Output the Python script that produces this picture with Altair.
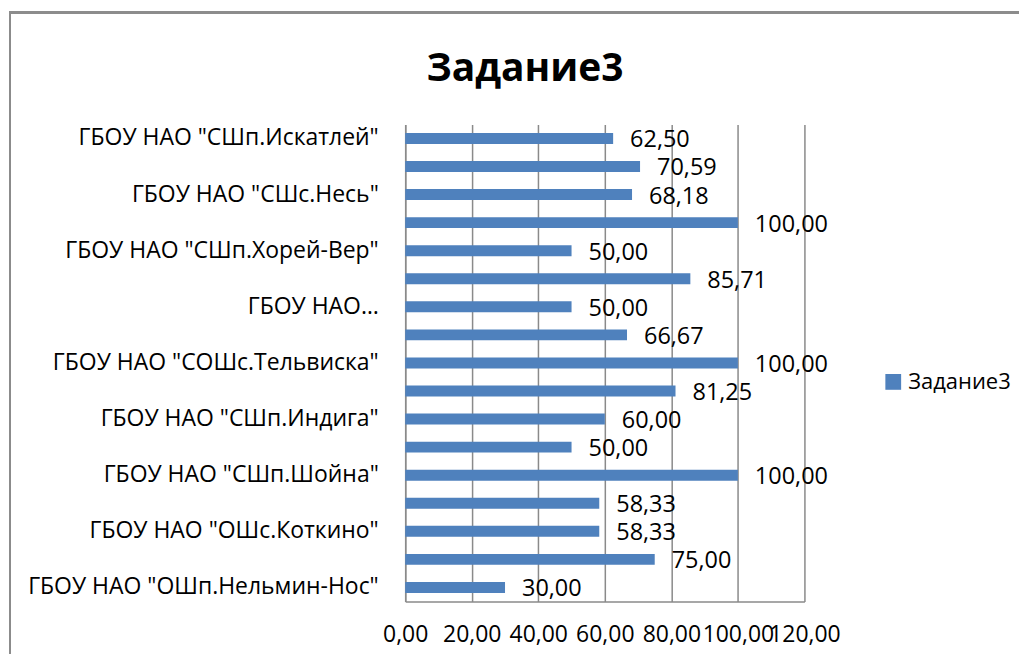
import altair as alt
import pandas as pd

# Data (top to bottom as shown)
labels = [
    'ГБОУ НАО "СШп.Искатлей"', '',
    'ГБОУ НАО "СШс.Несь"', '',
    'ГБОУ НАО "СШп.Хорей-Вер"', '',
    'ГБОУ НАО…', '',
    'ГБОУ НАО "СОШс.Тельвиска"', '',
    'ГБОУ НАО "СШп.Индига"', '',
    'ГБОУ НАО "СШп.Шойна"', '',
    'ГБОУ НАО "ОШс.Коткино"', '',
    'ГБОУ НАО "ОШп.Нельмин-Нос"',
]
values = [62.50, 70.59, 68.18, 100.00, 50.00, 85.71, 50.00, 66.67, 100.00,
          81.25, 60.00, 50.00, 100.00, 58.33, 58.33, 75.00, 30.00]
series = "Задание3"
x_ticks = [0, 20, 40, 60, 80, 100, 120]

FONT = "Open Sans"
BAR = "#4F81BD"
GRID = "#8a8a8a"

df = pd.DataFrame({"row": list(range(len(values))), "value": values, "series": series})
label_js = "[" + ",".join('"' + l.replace('"', '\\"') + '"' for l in labels) + "]"

y_enc = alt.Y("row:O", sort=list(range(len(values))),
              scale=alt.Scale(paddingInner=0.61, paddingOuter=0.305),
              axis=alt.Axis(title=None, ticks=False, labelExpr=f"{label_js}[datum.value]",
                            labelFont=FONT, labelFontSize=23, labelColor="#000",
                            labelPadding=27, domainColor=GRID, domainWidth=1.5,
                            labelLimit=400))
x_enc = alt.X("value:Q", scale=alt.Scale(domain=[0, 120], nice=False),
              axis=alt.Axis(title=None, values=x_ticks, ticks=False,
                            labelExpr="replace(format(datum.value,'.2f'),'.',',')",
                            labelFont=FONT, labelFontSize=23, labelColor="#000",
                            labelPadding=22, labelOverlap=False, labelFlush=False,
                            grid=True, gridColor=GRID, gridWidth=1.5,
                            domainColor=GRID, domainWidth=1.5))

bars = alt.Chart(df).mark_bar(color=BAR).encode(
    x=x_enc, y=y_enc,
    color=alt.Color("series:N", scale=alt.Scale(domain=[series], range=[BAR]),
                    legend=alt.Legend(title=None, orient="none", legendX=478, legendY=247,
                                      symbolType="square", symbolSize=250,
                                      symbolStrokeWidth=0,
                                      labelFont=FONT, labelFontSize=22, labelColor="#000",
                                      labelOffset=4)),
)

text = alt.Chart(df).transform_calculate(
    lbl="replace(format(datum.value,'.2f'),'.',',')"
).mark_text(align="left", baseline="middle", dx=17, dy=2, font=FONT, fontSize=23.5,
            color="#000").encode(x="value:Q", y=alt.Y("row:O", sort=list(range(len(values)))),
                                 text="lbl:N")

border_top = alt.Chart(df).mark_rule(color="#8c8c8c", strokeWidth=2, clip=False).encode(
    x=alt.value(-397), x2=alt.value(615), y=alt.value(-112))
border_left = alt.Chart(df).mark_rule(color="#8c8c8c", strokeWidth=2, clip=False).encode(
    x=alt.value(-396), y=alt.value(-112), y2=alt.value(530))

chart = alt.layer(border_top, border_left, bars, text).properties(
    width=400, height=478,
    padding={"left": 0, "top": 3, "right": 0, "bottom": 0},
    title=alt.Title(series, font=FONT, fontSize=39, fontWeight="bold", color="#000",
                    anchor="middle", frame="group", dx=-80, offset=-78),
).configure_view(stroke=None)

chart.save("out.html", embed_options={"renderer": "svg", "actions": False})
